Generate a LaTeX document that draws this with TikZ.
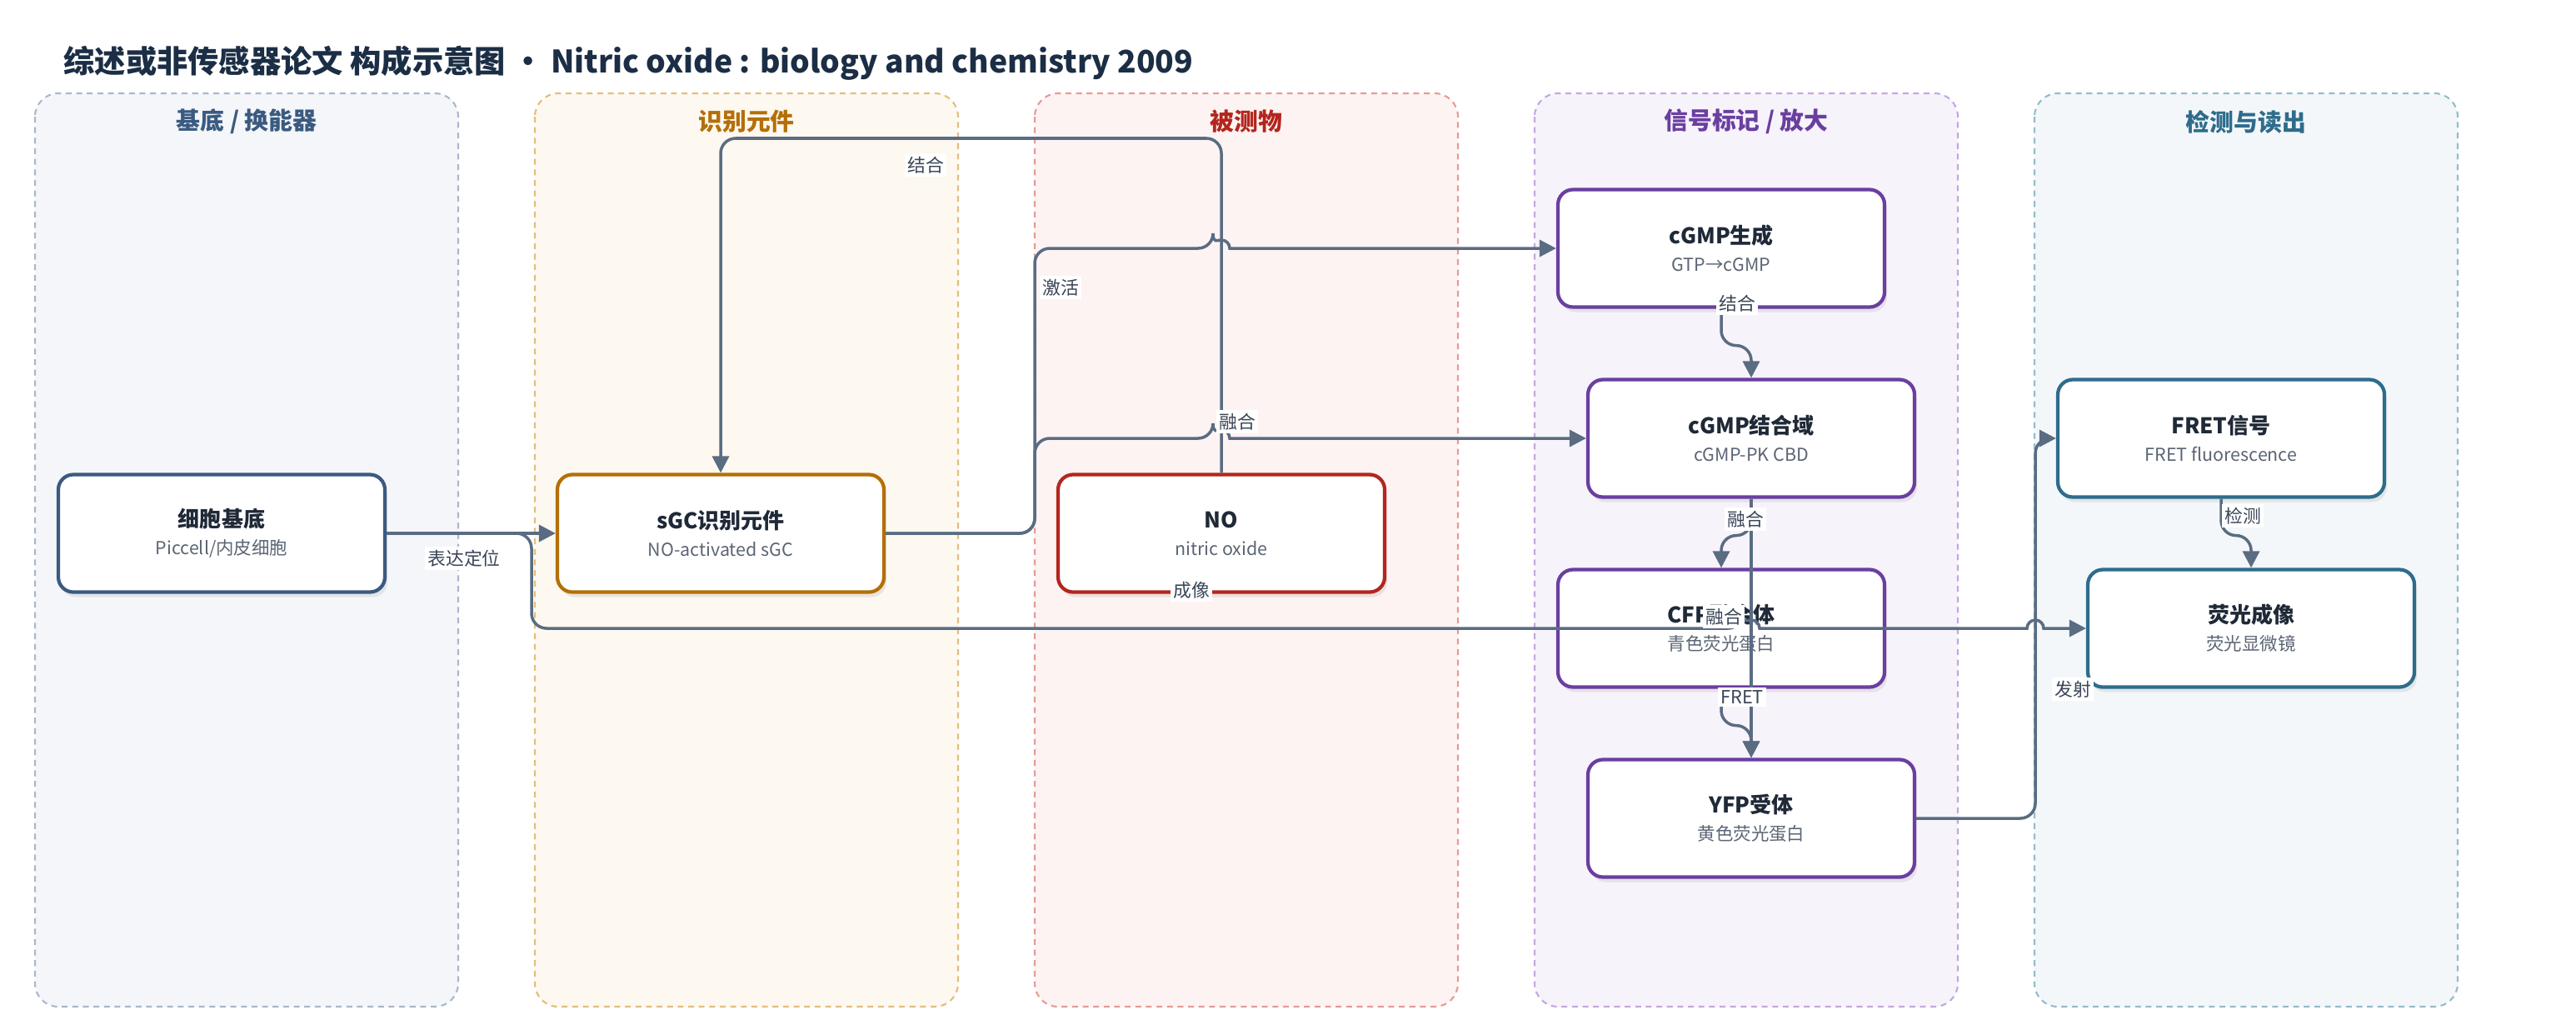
\documentclass[tikz,border=0pt]{standalone}
\usepackage{fontspec}
\setmainfont{Noto Sans CJK SC}
\usetikzlibrary{arrows.meta,shadows}
\definecolor{edgec}{HTML}{5A6C82}
\definecolor{titlec}{HTML}{1B2E45}
\definecolor{textc}{HTML}{1F2937}
\definecolor{subc}{HTML}{5B6574}
\definecolor{labc}{HTML}{3A4556}
\definecolor{afill}{HTML}{F4F6FA}\definecolor{aline}{HTML}{A9B8CC}\definecolor{ahead}{HTML}{3B5A80}
\definecolor{bfill}{HTML}{FDF8F0}\definecolor{bline}{HTML}{E3BE7E}\definecolor{bhead}{HTML}{B46F08}
\definecolor{cfill}{HTML}{FDF3F2}\definecolor{cline}{HTML}{E49C96}\definecolor{chead}{HTML}{B3261E}
\definecolor{dfill}{HTML}{F7F3FB}\definecolor{dline}{HTML}{C4A8DE}\definecolor{dhead}{HTML}{6A3FA0}
\definecolor{efill}{HTML}{F3F7F9}\definecolor{eline}{HTML}{95BCCC}\definecolor{ehead}{HTML}{2E6C8C}
\newcommand{\ttl}[1]{{\fontsize{7.4}{9.4}\selectfont\bfseries\color{textc}#1}}
\begin{document}
\begin{tikzpicture}[
    lane/.style={draw=#1line, fill=#1fill, rounded corners=0.28cm, line width=0.6pt,
      dash pattern=on 2pt off 1.6pt},
    head/.style={font=\fontsize{8.2}{10}\selectfont\bfseries, text=#1head},
    box/.style={draw=#1head, fill=white, line width=1.2pt, rounded corners=0.18cm,
      minimum width=3.92cm, minimum height=1.41cm, align=center, inner sep=0pt,
      font=\fontsize{6.1}{9.4}\selectfont, text=subc,
      drop shadow={shadow xshift=0.03cm, shadow yshift=-0.06cm, opacity=0.15}},
    lab/.style={fill=white, inner sep=1pt, font=\fontsize{6.2}{7}\selectfont, text=labc},
    flow/.style={draw=edgec, line width=1pt, rounded corners=0.18cm,
      -{Triangle[length=5.7pt,width=5.7pt]}}
  ]
  \useasboundingbox (0,0) rectangle (30.92,-12.35);
  \node[anchor=base west, inner sep=0pt, font=\fontsize{10.6}{12}\selectfont\bfseries,
    text=titlec] (title) at (0.76,-0.87)
    {综述或非传感器论文 构成示意图 • Nitric oxide : biology and chemistry 2009};

  \draw[lane=a] (0.42,-1.12) rectangle (5.50,-12.08);
  \draw[lane=b] (6.42,-1.12) rectangle (11.50,-12.08);
  \draw[lane=c] (12.42,-1.12) rectangle (17.50,-12.08);
  \draw[lane=d] (18.42,-1.12) rectangle (23.50,-12.08);
  \draw[lane=e] (24.42,-1.12) rectangle (29.50,-12.08);
  \path
    (2.96,-1.46) node[head=a] (ha) {基底 / 换能器}
    (8.96,-1.46) node[head=b] (hb) {识别元件}
    (14.96,-1.46) node[head=c] (hc) {被测物}
    (20.96,-1.46) node[head=d] (hd) {信号标记 / 放大}
    (26.96,-1.46) node[head=e] (he) {检测与读出};

  \path
    (2.66,-6.40) node[box=a] (cell) {\ttl{细胞基底}\\Piccell/内皮细胞}
    (8.65,-6.40) node[box=b] (sgc) {\ttl{sGC识别元件}\\NO-activated sGC}
    (14.66,-6.40) node[box=c] (no) {\ttl{NO}\\nitric oxide}
    (20.66,-2.98) node[box=d] (cg) {\ttl{cGMP生成}\\GTP→cGMP}
    (21.02,-5.26) node[box=d] (cbd) {\ttl{cGMP结合域}\\cGMP-PK CBD}
    (20.66,-7.54) node[box=d] (cfp) {\ttl{CFP融合体}\\青色荧光蛋白}
    (21.02,-9.82) node[box=d] (yfp) {\ttl{YFP受体}\\黄色荧光蛋白}
    (26.66,-5.26) node[box=e] (fret) {\ttl{FRET信号}\\FRET fluorescence}
    (27.02,-7.54) node[box=e] (img) {\ttl{荧光成像}\\荧光显微镜};

  \begin{scope}[flow]
    \draw (cell.east) -- (sgc.west);
    \draw (cell.east) -- (6.38,-6.40) -- (6.38,-7.54) -- (20.92,-7.54) [sharp corners]
      arc[start angle=180, end angle=0, radius=0.1] -- (24.33,-7.54)
      arc[start angle=180, end angle=0, radius=0.1] -- (img.west);
    \draw (no.north) -- (14.66,-1.66) -- (8.65,-1.66) -- (sgc.north);
    \draw (sgc.east) -- (12.42,-6.40) -- (12.42,-2.98) -- (14.56,-2.98) [sharp corners]
      arc[start angle=180, end angle=0, radius=0.1] -- (cg.west);
    \draw (sgc.east) -- (12.42,-6.40) -- (12.42,-5.26) -- (14.56,-5.26) [sharp corners]
      arc[start angle=180, end angle=0, radius=0.1] -- (cbd.west);
    \draw (cg.south) -- ++(0,-0.44) -| (cbd.north);
    \draw (cbd.south) -- ++(0,-0.44) -| (cfp.north);
    \draw (cbd.south) -- (yfp.north);
    \draw (cfp.south) -- ++(0,-0.44) -| (yfp.north);
    \draw (yfp.east) -- (24.43,-9.82) -- (24.43,-5.26) -- (fret.west);
    \draw (fret.south) -- ++(0,-0.44) -| (img.north);
  \end{scope}

  \node[lab] (l1) at (5.57,-6.70) {表达定位};
  \node[lab] (l2) at (14.30,-7.08) {成像};
  \node[lab] (l3) at (11.11,-1.98) {结合};
  \node[lab] (l4) at (12.73,-3.45) {激活};
  \node[lab] (l5) at (14.85,-5.06) {融合};
  \node[lab] (l6) at (20.85,-3.64) {结合};
  \node[lab] (l7) at (20.95,-6.23) {融合};
  \node[lab] (l8) at (20.69,-7.40) {融合};
  \node[lab] (l9) at (20.91,-8.36) {FRET};
  \node[lab] (l10) at (24.88,-8.27) {发射};
  \node[lab] (l11) at (26.92,-6.19) {检测};
\end{tikzpicture}
\end{document}
